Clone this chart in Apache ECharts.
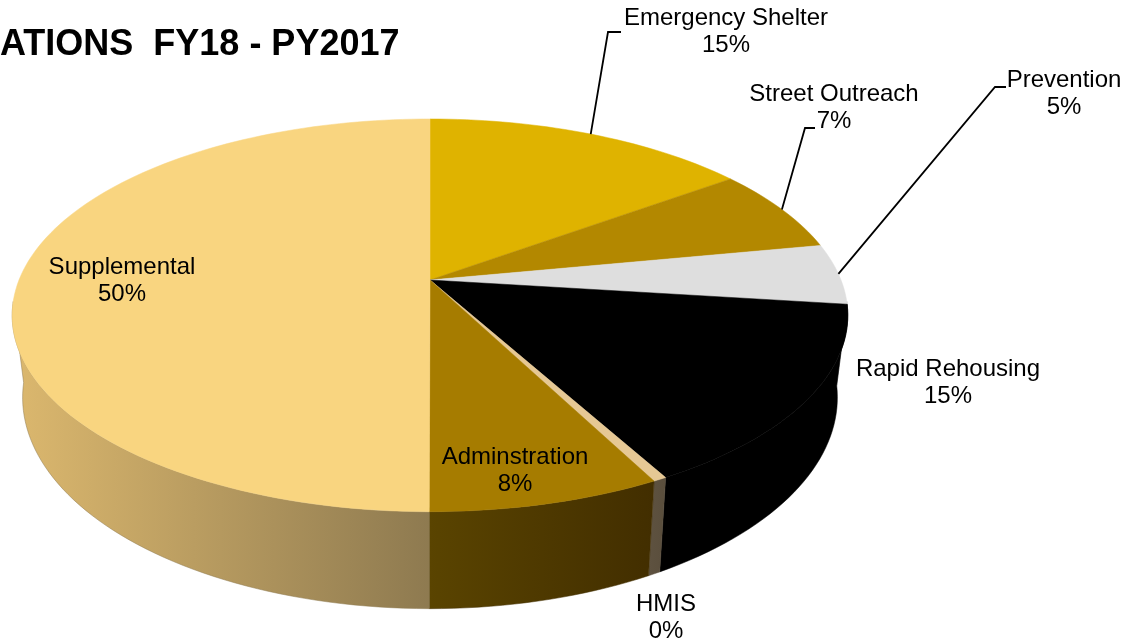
<!DOCTYPE html>
<html><head><meta charset="utf-8">
<script src="https://cdn.jsdelivr.net/npm/echarts@6/dist/echarts.min.js"></script>
<style>html,body{margin:0;padding:0;background:#fff}#c{width:1127px;height:643px}</style>
</head><body><div id="c"></div>
<script>
// ---- data ----
const titleText = 'ATIONS  FY18 - PY2017';
const categories = ['Emergency Shelter', 'Street Outreach', 'Prevention', 'Rapid Rehousing', 'HMIS', 'Adminstration', 'Supplemental'];
const values = [15, 7, 5, 15, 0.45, 7.6, 50];

// ---- styles / layout ----
const topColors = ['#DFB300', '#B38800', '#DEDEDE', '#000000', '#E6C894', '#A67C00', '#F9D580'];
const wallColors = [
  ['#8C7000', '#6E5400'], ['#705500', '#5A4400'], ['#A8A8A8', '#8A8A8A'], ['#000000', '#000000'],
  ['#5E5240', '#5A4E3C'], ['#5A4400', '#422E00'], ['#DCB86E', '#8E7A50']
];
const FONT = '24px "Liberation Sans", Arial, sans-serif';
const labelLayout = {
  'Emergency Shelter': { x: 726, y: 32, leader: [[608, 32], [621, 32]] },
  'Street Outreach': { x: 834, y: 108, leader: [[805, 128], [815, 128]] },
  'Prevention': { x: 1064, y: 94, leader: [[995, 87], [1006, 87]] },
  'Rapid Rehousing': { x: 948, y: 383 },
  'HMIS': { x: 666, y: 618 },
  'Adminstration': { x: 515, y: 471 },
  'Supplemental': { x: 122, y: 281 }
};
const G = { cx: 430, cy: 280, A: 411, B: 190, k: 0.18, H: 79.5, s: 0.975 };

const total = values.reduce((a, b) => a + b, 0);
const starts = [];
values.reduce((acc, v, i) => { starts[i] = acc; return acc + v; }, 0);

function proj(theta, rho) {
  const t = theta * Math.PI / 180;
  const u = rho * Math.sin(t), v = rho * Math.cos(t);
  const w = 1 + G.k * v;
  return [G.cx + G.A * u / w, G.cy - G.B * v / w, w];
}
function arcPts(a0, a1) {
  const n = Math.max(2, Math.ceil((a1 - a0) / 1.5));
  const pts = [];
  for (let i = 0; i <= n; i++) pts.push(proj(a0 + (a1 - a0) * i / n, 1));
  return pts;
}
function angles(i) {
  const a0 = starts[i] / total * 360;
  const a1 = (starts[i] + values[i]) / total * 360;
  return [a0, a1];
}
const visLo = Math.acos(-G.k) * 180 / Math.PI - 4, visHi = 360 - visLo;

function renderWall(params, api) {
  const i = params.dataIndex;
  let [a0, a1] = angles(i);
  a0 = Math.max(a0, visLo); a1 = Math.min(a1, visHi);
  if (a1 <= a0) return null;
  const top = arcPts(a0, a1);
  const pts = top.map(p => [p[0], p[1]]);
  for (let j = top.length - 1; j >= 0; j--) {
    pts.push([G.cx + (top[j][0] - G.cx) * G.s, top[j][1] + G.H / top[j][2]]);
  }
  const c = wallColors[i];
  return {
    type: 'polygon', shape: { points: pts },
    style: {
      fill: new echarts.graphic.LinearGradient(0, 0, 1, 0, [{ offset: 0, color: c[0] }, { offset: 1, color: c[1] }]),
      stroke: c[1], lineWidth: 0.5
    }
  };
}
function renderTop(params, api) {
  const i = params.dataIndex;
  const [a0, a1] = angles(i);
  const pts = [[G.cx, G.cy]].concat(arcPts(a0, a1).map(p => [p[0], p[1]]));
  return {
    type: 'polygon', shape: { points: pts },
    style: { fill: topColors[i], stroke: topColors[i], lineWidth: 0.5 }
  };
}
function renderLabel(params, api) {
  const i = params.dataIndex;
  const name = categories[i];
  const L = labelLayout[name];
  const pct = Math.round(api.value(1) / total * 100) + '%';
  const children = [{
    type: 'text',
    style: { text: name + '\n' + pct, x: L.x, y: L.y, align: 'center', verticalAlign: 'middle', font: FONT, lineHeight: 27, fill: '#000' }
  }];
  if (L.leader) {
    const [a0, a1] = angles(i);
    const s = proj((a0 + a1) / 2, 1);
    children.push({
      type: 'polyline', shape: { points: [[s[0], s[1]]].concat(L.leader) },
      style: { stroke: '#000', lineWidth: 1.8, fill: null }
    });
  }
  return { type: 'group', children };
}

const seriesData = values.map((v, i) => [i, v]);
const chart = echarts.init(document.getElementById('c'), null, { renderer: 'canvas' });
chart.setOption({
  animation: false,
  backgroundColor: '#fff',
  graphic: [{
    type: 'text', x: 0, y: 45,
    style: { text: titleText, font: 'bold 36px "Liberation Sans", Arial, sans-serif', fill: '#000', verticalAlign: 'middle' }
  }],
  series: [
    { type: 'custom', coordinateSystem: 'none', z: 1, silent: true, data: seriesData, renderItem: renderWall },
    { type: 'custom', coordinateSystem: 'none', z: 2, silent: true, data: seriesData, renderItem: renderTop },
    { type: 'custom', coordinateSystem: 'none', z: 3, silent: true, data: seriesData, renderItem: renderLabel }
  ]
});
</script>
</body></html>
